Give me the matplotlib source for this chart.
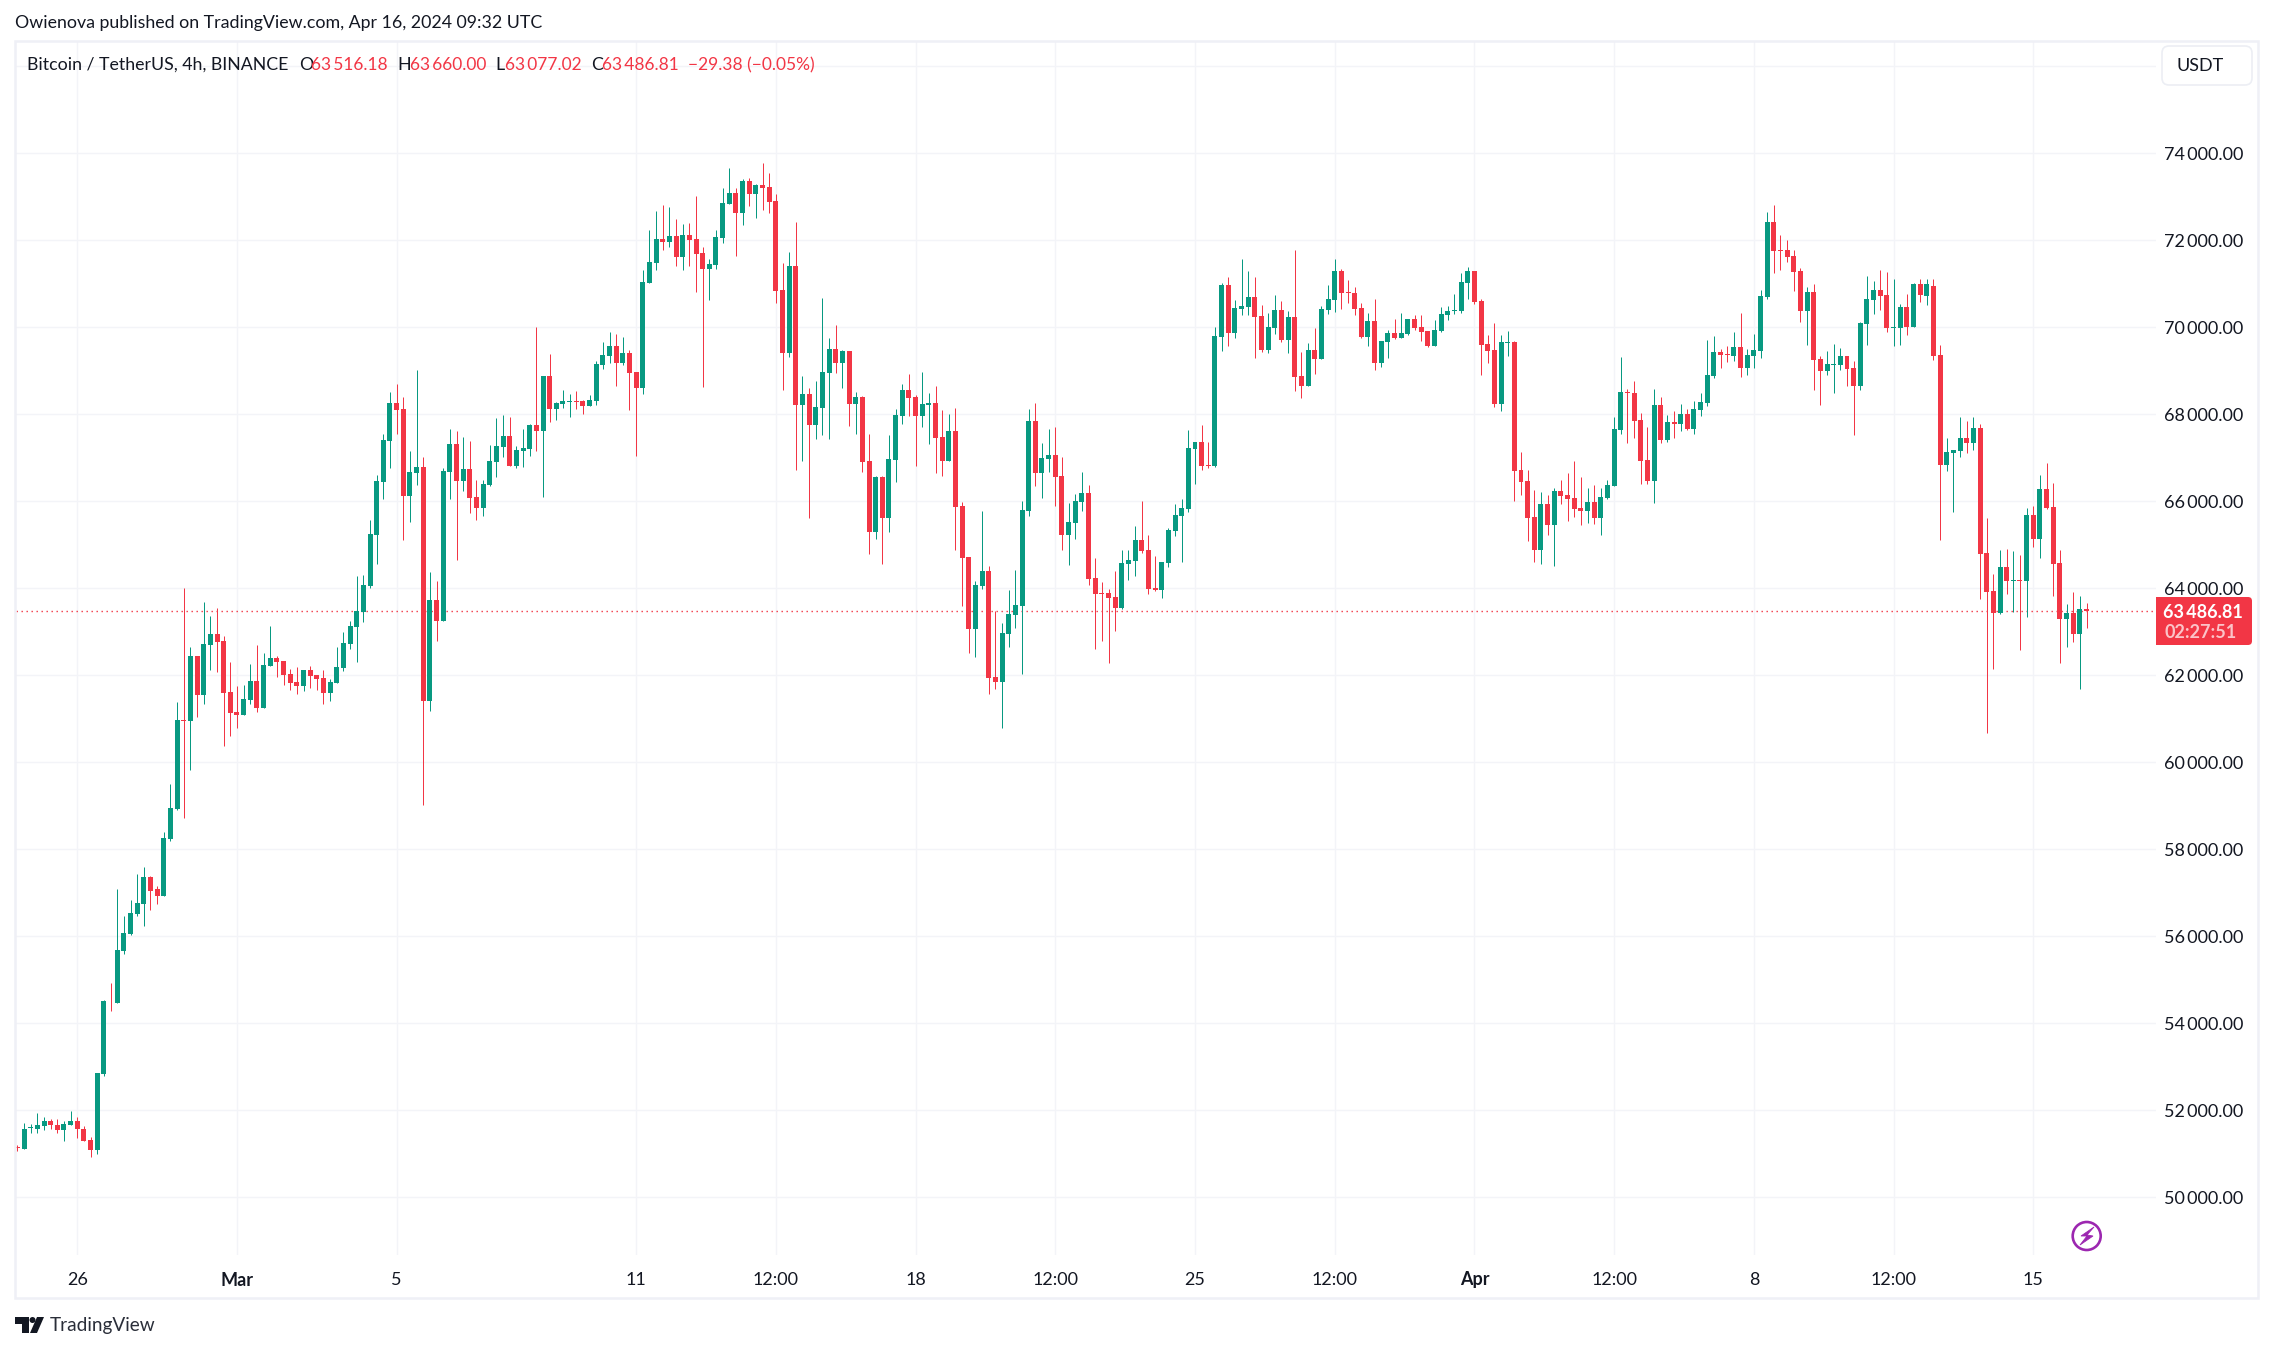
import matplotlib
matplotlib.use('Agg')
import matplotlib.pyplot as plt
from matplotlib.patches import Circle, FancyBboxPatch, Polygon, Rectangle
from matplotlib.transforms import Affine2D

plt.rcParams['font.family'] = ['Lato', 'DejaVu Sans']

# 4h candles, first one is 9 bars before the "26" tick
opens = [
    51149, 51108, 51590, 51580, 51631, 51744, 51672, 51538, 51672, 51764, 51580, 51323, 51097, 52841, 54523, 54472,
    55672, 56062, 56513, 56749, 57374, 57087, 56933, 58246, 58933, 60974, 60954, 62451, 61549, 62697, 62954, 62790,
    61621, 61159, 61087, 61436, 61877, 61251, 62215, 62400, 62328, 62031, 61846, 61754, 62123, 62010, 61938, 61600,
    61826, 62174, 62718, 63118, 63456, 64051, 65226,
    66444, 67387, 68261, 68123, 66123, 66651, 66789, 61415, 63733, 63250, 66674, 67318, 66467, 66743, 66100, 65847,
    66375, 66904, 67249, 67502, 66812, 67157, 67203, 67755, 67617, 68881, 68123, 68238, 68284, 68307, 68307, 68192,
    68307, 69134, 69341, 69571, 69180, 69410, 68973, 68605, 71019, 71479, 72031, 71962, 72100, 71617, 72123, 72031,
    71709, 71341, 71433, 72054, 72835, 73088, 72628, 73364, 73065, 73272, 73226, 72904, 70858, 69410, 71410, 68215,
    68468, 67755, 68146, 68950, 69502,
    69180, 69456, 68238, 68398, 66927, 65295, 66559, 65617, 66950, 67962, 68559, 68398, 67962, 68215, 68260, 67479,
    66927, 67617, 65892, 64721, 63066, 64054, 64399, 61962, 61847, 62950, 63387, 63594, 65778, 67847, 66651, 66973,
    67065, 66582, 65226, 65502, 65985, 66192, 64238, 63893, 63893, 63801, 63548, 64559, 64628, 65111, 64881, 64008,
    63962, 64582, 65318, 65663, 65824, 67203, 67364, 66835, 66805,
    69778, 70973, 69870, 70422, 70468, 70698, 70261, 69479, 69985, 70399, 69709, 70238, 68881, 68651, 69479, 69272,
    70399, 70629, 71295, 70812, 70789, 70445, 69778, 70146, 69180, 69663, 69870, 69755, 69847, 70192, 70008, 69916,
    69571, 69916, 70284, 70376, 70376, 71019, 71295, 70606, 69617, 69479, 68238, 69640, 69663, 66720, 66467, 65640,
    64881, 65939, 65456, 66238, 66146, 66077, 65847, 65778,
    65985, 65617, 66077, 66352, 67640, 68513, 68490, 67870, 66950, 66467, 68215, 67410, 67824, 67778, 68008, 67663,
    68100, 68261, 68881, 69433, 69387, 69341, 69548, 69065, 69341, 69456, 70698, 72421, 71778, 71778, 71640, 71295,
    70375, 70812, 69272, 68996, 69134, 69134, 69341, 69065, 68651, 70077, 70628, 70858, 70743, 69985, 69985, 70467,
    70008, 71004, 70720, 70950, 69364, 66835, 67111, 67157, 67456, 67341, 67686, 64812, 63939, 63433, 64490, 64169,
    64192, 64169, 65686, 65134, 66283, 65869, 64583, 63295, 63433, 62950, 63516.18,
]
highs = [
    51210, 51713, 51692, 51928, 51836, 51805, 51805, 51764, 51990, 51836, 51631, 51395, 52862, 54543, 54933, 57097,
    56472, 56841, 57436, 57600, 57395, 57149, 58400, 59508, 61395, 64010, 62656, 62451, 63692, 63364, 63549, 62892,
    62308, 61754, 61785, 62267, 62697, 62513, 63138, 62451, 62328, 62144, 62195, 62123, 62215, 62010, 62123, 61918,
    62656, 62995, 63251, 64287, 64308, 65569, 66605,
    67548, 68513, 68697, 68398, 67157, 69019, 67019, 64379, 64169, 66766, 67663, 67617, 67479, 67387, 66490, 66490,
    67295, 67916, 67985, 67939, 67272, 67663, 67778, 70008, 68881, 69387, 68284, 68560, 68468, 68537, 68330, 68445,
    69226, 69663, 69893, 69847, 69778, 69479, 68973, 71318, 72238, 72674, 72812, 72766, 72490, 72375, 72398, 73019,
    71847, 71571, 72238, 73203, 73663, 73203, 73410, 73433, 73295, 73778, 73548, 73065, 71479, 71732, 72421, 68881,
    68605, 68766, 70674, 69755, 70054,
    69479, 69456, 68513, 68421, 67548, 66582, 66582, 67525, 68123, 68697, 68927, 68444, 68973, 68490, 68651, 68100,
    68008, 68146, 65985, 64721, 64169, 65778, 64514, 63479, 63203, 63962, 64422, 66008, 68123, 68260, 67341, 67663,
    67709, 67019, 65962, 66169, 66674, 66375, 64697, 64146, 63985, 64399, 64881, 64881, 65433, 66008, 65226, 64743,
    64605, 65387, 65939, 66054, 67640, 67364, 67755, 67364, 70008,
    71019, 71157, 70629, 71571, 71295, 71157, 70514, 70330, 70744, 70606, 70376, 71778, 69433, 69640, 69985, 70491,
    70973, 71571, 71341, 71088, 70927, 70560, 70330, 70652, 69686, 69939, 70192, 70330, 70192, 70284, 70284, 69916,
    70169, 70468, 70491, 70766, 71249, 71387, 71295, 70652, 69824, 70100, 69824, 69916, 69686, 67134, 66720, 66260,
    66215, 66146, 66307, 66490, 66651, 66927, 66560, 66307,
    66375, 66307, 66490, 67939, 69318, 68582, 68766, 68031, 67709, 68582, 68398, 67985, 68077, 68238, 68123, 68307,
    68490, 69709, 69801, 69502, 69571, 69893, 70330, 69502, 69847, 70858, 72651, 72812, 72123, 72008, 71778, 71364,
    70927, 70996, 69341, 69456, 69617, 69525, 69341, 69226, 70123, 71180, 71065, 71318, 71272, 71111, 70536, 70766,
    71019, 71100, 71120, 71100, 69594, 67456, 67180, 67939, 67847, 67939, 67778, 65617, 64330, 64881, 64904, 64858,
    64766, 65847, 65893, 66605, 66881, 66421, 64881, 63640, 63916, 63824, 63660.00,
]
lows = [
    51067, 51108, 51467, 51467, 51549, 51559, 51467, 51303, 51672, 51354, 51303, 50933, 50985, 52779, 54287, 54472,
    55600, 56041, 56472, 56246, 56615, 56749, 56933, 58195, 58913, 58728, 59826, 61046, 61344, 62123, 62082, 60380,
    60605, 60790, 61087, 61344, 61159, 61251, 62215, 61969, 61785, 61662, 61569, 61641, 61713, 61662, 61344, 61415,
    61826, 62103, 62605, 62308, 63231, 64010, 64559,
    66054, 66766, 67548, 65111, 65525, 66375, 59026, 61179, 62790, 63250, 66054, 64659, 66238, 65732, 65571, 65663,
    66352, 66559, 67019, 66812, 66766, 66789, 67042, 67157, 66100, 67824, 67870, 68146, 67939, 68123, 68008, 68192,
    68215, 69042, 69180, 68651, 69134, 68100, 67042, 68468, 71019, 71318, 71778, 71847, 71410, 71318, 71410, 70812,
    68628, 70628, 71341, 71939, 72835, 71640, 72352, 72789, 72513, 72697, 72628, 70559, 68560, 69318, 66720, 66927,
    65617, 67433, 67525, 67433, 68950,
    68605, 67732, 67548, 66674, 64789, 65134, 64560, 65295, 66444, 67778, 67962, 66812, 67709, 67318, 66651, 66582,
    66927, 64881, 63594, 62514, 62421, 63985, 61571, 61686, 60789, 62651, 63088, 62031, 65663, 66352, 66077, 66674,
    65892, 64881, 64536, 65134, 65778, 64077, 62605, 62789, 62283, 63019, 63525, 64192, 64283, 64812, 63870, 63939,
    63778, 64490, 65203, 64605, 65755, 66398, 66720, 66766, 66782,
    69456, 69571, 69755, 70284, 70284, 69295, 69433, 69410, 69847, 69663, 69410, 68537, 68375, 68651, 68927, 69272,
    70307, 70352, 70422, 70560, 70284, 69755, 69571, 69019, 69088, 69295, 69732, 69755, 69824, 69939, 69686, 69548,
    69571, 69893, 70169, 70307, 70330, 70652, 70537, 68904, 69180, 68169, 68077, 69341, 66008, 66146, 65088, 64605,
    64559, 65226, 64513, 65939, 65548, 65640, 65456, 65502,
    65479, 65226, 66054, 66352, 67548, 67341, 67456, 66398, 66398, 65962, 67341, 67364, 67456, 67617, 67640, 67548,
    67962, 68192, 68835, 69065, 69203, 69226, 68858, 68904, 69065, 69295, 70652, 71249, 71318, 71502, 70835, 70123,
    69594, 68560, 68214, 68904, 68490, 69019, 68651, 67525, 68560, 69594, 70307, 70398, 69893, 69571, 69594, 69824,
    70008, 70590, 70513, 69249, 65111, 66697, 65755, 67019, 67111, 67180, 63755, 60682, 62146, 63410, 63870, 63456,
    62582, 63341, 64950, 64697, 65824, 63824, 62283, 62651, 62766, 61686, 63077.02,
]
closes = [
    51129, 51580, 51610, 51651, 51744, 51651, 51538, 51692, 51764, 51559, 51303, 51097, 52862, 54523, 54502, 55692,
    56082, 56544, 56770, 57374, 57046, 56933, 58267, 58954, 60974, 60954, 62451, 61549, 62718, 62954, 62769, 61600,
    61138, 61087, 61456, 61877, 61251, 62236, 62400, 62308, 62010, 61826, 61754, 62123, 61990, 61918, 61600, 61846,
    62195, 62749, 63138, 63477, 64082, 65251, 66467,
    67410, 68261, 68100, 66123, 66674, 66789, 61415, 63733, 63250, 66697, 67318, 66467, 66743, 66077, 65847, 66398,
    66927, 67272, 67502, 66812, 67180, 67226, 67755, 67617, 68881, 68123, 68261, 68307, 68307, 68284, 68192, 68330,
    69157, 69364, 69571, 69180, 69410, 68950, 68605, 71042, 71502, 72031, 71962, 72100, 71617, 72123, 72008, 71686,
    71341, 71456, 72077, 72858, 73088, 72628, 73364, 73065, 73272, 73203, 72881, 70835, 69410, 71410, 68215, 68468,
    67755, 68169, 68973, 69502, 69180,
    69456, 68238, 68398, 66904, 65295, 66559, 65617, 66973, 67985, 68559, 68375, 67962, 68238, 68260, 67456, 66927,
    67617, 65870, 64697, 63066, 64077, 64399, 61939, 61847, 62973, 63409, 63617, 65800, 67847, 66651, 66996, 67065,
    66559, 65226, 65525, 66008, 66192, 64215, 63870, 63870, 63778, 63548, 64582, 64651, 65111, 64858, 63985, 63962,
    64605, 65341, 65686, 65847, 67226, 67364, 66812, 66812, 69801,
    70973, 69870, 70445, 70491, 70698, 70238, 69479, 70008, 70399, 69709, 70238, 68859, 68651, 69479, 69272, 70422,
    70652, 71295, 70789, 70789, 70422, 69778, 70146, 69180, 69686, 69870, 69755, 69870, 70192, 69985, 69893, 69571,
    69939, 70307, 70376, 70399, 71042, 71295, 70582, 69594, 69456, 68238, 69663, 69663, 66697, 66444, 65617, 64881,
    65939, 65456, 66238, 66123, 66054, 65824, 65778, 65985,
    65617, 66100, 66375, 67663, 68513, 68490, 67847, 66927, 66467, 68215, 67410, 67824, 67778, 68008, 67663, 68123,
    68284, 68904, 69433, 69364, 69364, 69548, 69065, 69364, 69479, 70720, 72421, 71755, 71755, 71617, 71272, 70375,
    70812, 69249, 68996, 69157, 69157, 69341, 69042, 68651, 70100, 70651, 70858, 70720, 69985, 70008, 70467, 70008,
    71004, 70743, 71000, 69349, 66835, 67134, 67180, 67456, 67341, 67686, 64789, 63916, 63433, 64490, 64169, 64192,
    64169, 65686, 65134, 66283, 65847, 64558, 63295, 63433, 62950, 63525, 63486.81,
]

first_bar = -9
price_ticks = [74000, 72000, 70000, 68000, 66000, 64000, 62000, 60000, 58000, 56000, 54000, 52000, 50000]
extra_grid = [76000]
time_ticks = [0, 24, 48, 84, 105, 126, 147, 168, 189, 210, 231, 252, 273, 294]
time_labels = ['26', 'Mar', '5', '11', '12:00', '18', '12:00', '25', '12:00', 'Apr', '12:00', '8', '12:00', '15']
bold_labels = ['Mar', 'Apr']

last_price = 63486.81
countdown = '02:27:51'

UP = '#089981'
DOWN = '#F23645'
INK = '#131722'
GRID = '#f3f4f8'
FRAME = '#eff0f6'

W, H = 2273, 1351
fig = plt.figure(figsize=(W / 100, H / 100), dpi=100, facecolor='white')
px = Affine2D().scale(1 / W, -1 / H).translate(0, 1) + fig.transFigure


def put(x, y, s, color=INK, size=13.0, **kw):
    kw.setdefault('va', 'center')
    fig.text(x, y, s, color=color, fontsize=size, transform=px, **kw)


# chart pane, limits follow the 2000 USD = 87 px and 6.653 px per bar scale
left, right, top, bottom = 16, 2156, 42, 1255
ax = fig.add_axes([left / W, 1 - bottom / H, (right - left) / W, (bottom - top) / H])
ax.set_xlim((left - 77.3) / 6.653, (right - 77.3) / 6.653)
ax.set_ylim(74000 - (bottom - 153.3) / 0.0435, 74000 - (top - 153.3) / 0.0435)
ax.set_xticks(time_ticks)
ax.set_yticks(price_ticks + extra_grid)
ax.tick_params(length=0, labelleft=False, labelbottom=False)
ax.grid(True, color=GRID, linewidth=1.0)
ax.set_axisbelow(True)
for s in ax.spines.values():
    s.set_visible(False)

xs = list(range(first_bar, first_bar + len(opens)))
colors = [UP if c >= o else DOWN for o, c in zip(opens, closes)]
wicks = ax.vlines(xs, lows, highs, colors=colors, linewidth=0.72, zorder=3)
wicks.set_snap(True)
ax.bar(xs, [abs(c - o) for o, c in zip(opens, closes)], bottom=[min(o, c) for o, c in zip(opens, closes)],
       width=0.75, color=colors, linewidth=0, zorder=4)
ax.axhline(last_price, color=DOWN, linewidth=1.0, linestyle=(0, (1, 2.6)), zorder=2)

# outer frame
fig.add_artist(Rectangle((15, 41), 2243, 1256.5, transform=px, fill=False, edgecolor=FRAME, linewidth=1.8))

# top texts
put(15, 23, 'Owienova published on TradingView.com, Apr 16, 2024 09:32 UTC', size=12.8)
put(27, 65, 'Bitcoin / TetherUS, 4h, BINANCE', size=12.8)
for lx, vx, name, val in [(299, 311, 'O', '63\u2009516.18'), (397, 410, 'H', '63\u2009660.00'),
                          (495, 505, 'L', '63\u2009077.02'), (591, 602, 'C', '63\u2009486.81')]:
    put(lx, 65, name, size=12.8)
    put(vx, 65, val, color=DOWN, size=12.5)
put(688, 65, '\u221229.38 (\u22120.05%)', color=DOWN, size=12.5)

# price scale
for p in price_ticks:
    y = ax.transData.transform((0, p))[1]
    put(2243, H - y + 1.5, f'{p // 1000}\u2009{p % 1000:03d}.00', ha='right')

# time scale
for t, lab in zip(time_ticks, time_labels):
    put(77.3 + 6.653 * t, 1280, lab, ha='center', fontweight='bold' if lab in bold_labels else 'normal')

# currency button
fig.add_artist(FancyBboxPatch((2167, 51), 80, 29, boxstyle='round,pad=5,rounding_size=7', transform=px,
                              facecolor='white', edgecolor='#eceef4', linewidth=1.2))
put(2176, 66, 'USDT')

# last price tag
fig.add_artist(FancyBboxPatch((2160, 601), 88, 40, boxstyle='round,pad=4,rounding_size=4', transform=px,
                              facecolor=DOWN, edgecolor='none'))
fig.add_artist(Rectangle((2156, 597), 8, 48, transform=px, facecolor=DOWN, edgecolor='none'))
put(2243, 612, f'{int(last_price) // 1000}\u2009{last_price % 1000:06.2f}', color='white', ha='right', fontweight='bold')
put(2237, 633, countdown, color='#fbc3c8', ha='right', fontweight='bold')

# lightning badge
fig.add_artist(Circle((2086.7, 1236), 14, transform=px, fill=False, edgecolor='#9c27b0', linewidth=1.9))
fig.add_artist(Polygon([(2094, 1227), (2081, 1236), (2087, 1236), (2080, 1245), (2093, 1236), (2087, 1235)],
                       closed=True, transform=px, facecolor='#9c27b0', edgecolor='#9c27b0', linewidth=0.6))

# logo
fig.add_artist(Polygon([(15, 1317), (29, 1317), (29, 1333), (22, 1333), (22, 1324), (15, 1324)], closed=True,
                       transform=px, facecolor=INK, edgecolor='none'))
fig.add_artist(Circle((32.5, 1320), 3, transform=px, facecolor=INK, edgecolor='none'))
fig.add_artist(Polygon([(37, 1317), (44, 1317), (37, 1333), (30, 1333)], closed=True, transform=px,
                       facecolor=INK, edgecolor='none'))
put(50, 1325, 'TradingView', size=13.7, color='#2a2e39')

fig.savefig('out.png', dpi=100, facecolor='white')
